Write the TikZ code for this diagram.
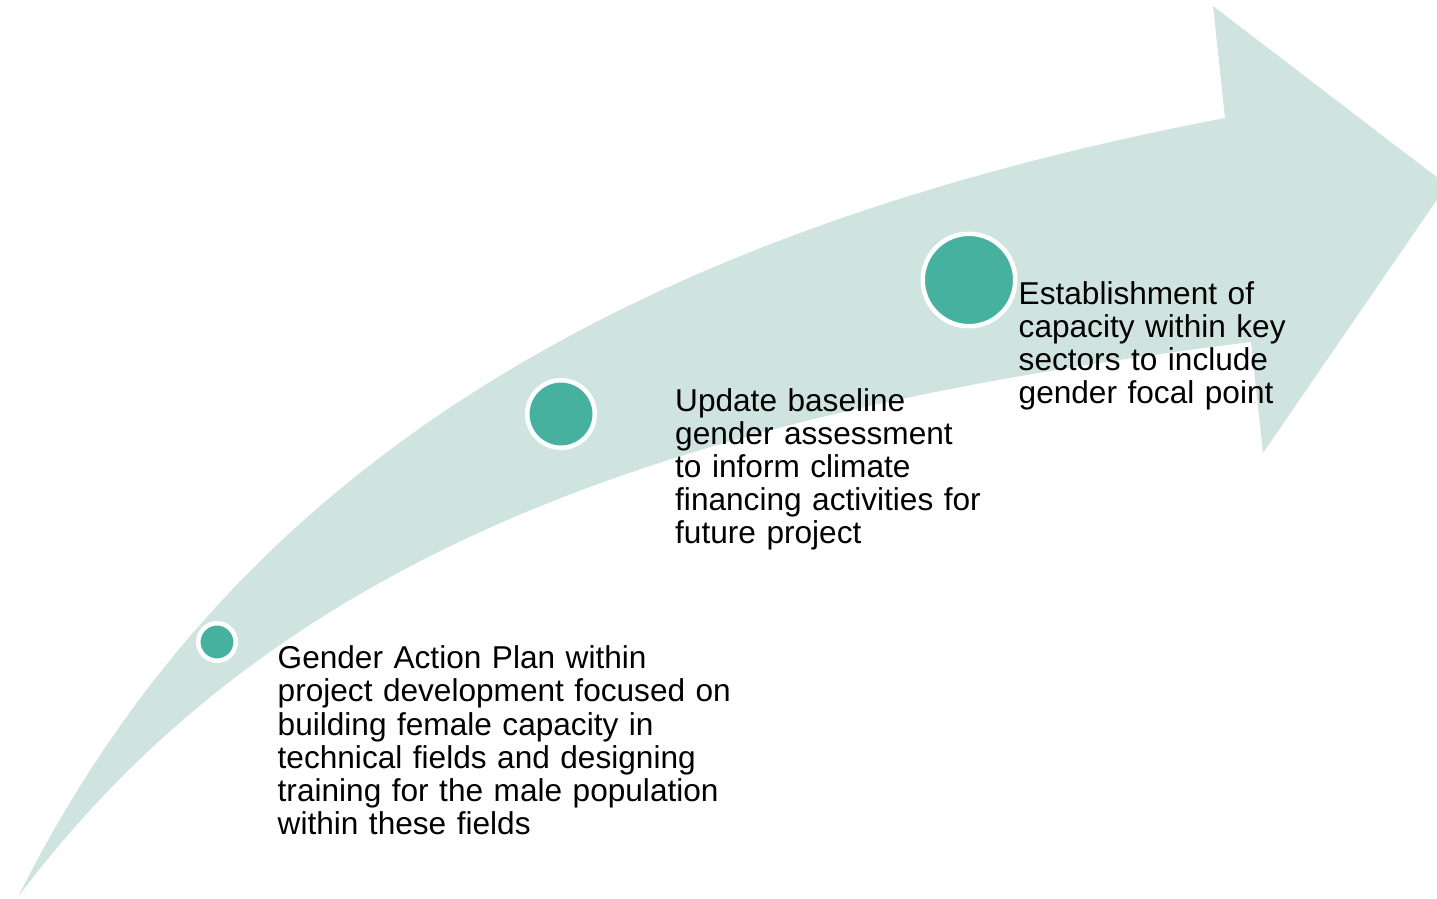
\documentclass[tikz,border=0pt]{standalone}
\usepackage{fontspec}
\setmainfont{Liberation Sans}
\definecolor{bandgreen}{HTML}{CFE4DF}
\definecolor{dotteal}{HTML}{47B19F}

\begin{document}
\begin{tikzpicture}[x=1pt, y=-1pt,
    dot/.style = {circle, draw=white, line width=4.5pt, fill=dotteal, inner sep=0pt},
    note/.style = {anchor=north west, inner sep=0pt, text width=480pt, align=left,
                   font=\fontsize{31.6}{33.2}\selectfont}]
  \useasboundingbox (0,0) rectangle (1437,899);
  \clip (0,0) rectangle (1437,899);
  % curved band with its head
  \fill[bandgreen] (18,897) .. controls (219,495) and (587,240) .. (1225,118)
    -- (1213,6) -- (1447,185) -- (1263,453) -- (1251,342)
    .. controls (705,410) and (288,537) .. (18,897) -- cycle;
  % milestones
  \node[dot, minimum size=37.5pt] (d1) at (217,642) {};
  \node[dot, minimum size=67.5pt] (d2) at (561,414) {};
  \node[dot, minimum size=92.5pt] (d3) at (969,280) {};
  % labels
  \node[note] (t1) at (277.5,645.5) {Gender Action Plan within\\
    project development focused on\\
    building female capacity in\\
    technical fields and designing\\
    training for the male population\\
    within these fields};
  \node[note] (t2) at (675,388) {Update baseline\\
    gender assessment\\
    to inform climate\\
    financing activities for\\
    future project};
  \node[note] (t3) at (1018.5,281) {Establishment of\\
    capacity within key\\
    sectors to include\\
    gender focal point};
\end{tikzpicture}
\end{document}
